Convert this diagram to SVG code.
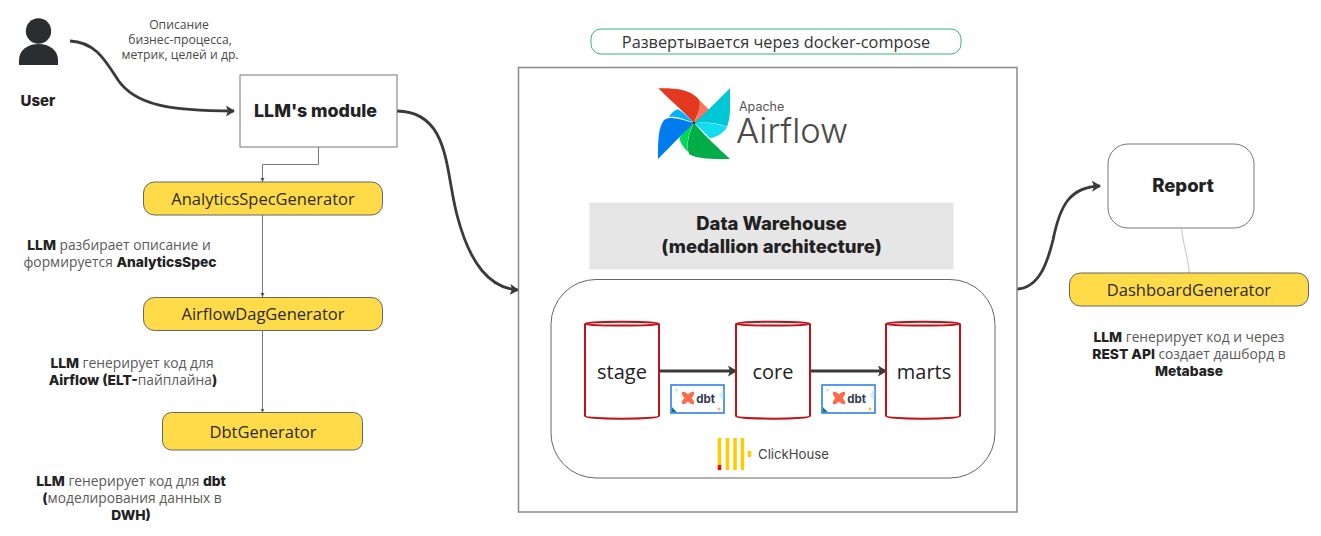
<svg xmlns="http://www.w3.org/2000/svg" width="1321" height="536" viewBox="0 0 1321 536">
<style>
text{font-family:"Open Sans","Noto Sans",sans-serif;text-anchor:middle}
.n{font-size:13.8px;fill:#5a5a5a}
.s{font-size:12.2px;fill:#4a4a4a}
.b{font-family:Inter,"Noto Sans",sans-serif;font-weight:800;fill:#222}
.g{font-size:16.5px;fill:#2b2b2b}
.c{font-size:20px;fill:#222}
.y{fill:#ffdb4a;stroke:#666;stroke-width:1}
.thick{fill:none;stroke:#3a3a3a;stroke-width:2.8;marker-end:url(#ah)}
.thin{fill:none;stroke:#777;stroke-width:1;marker-end:url(#as)}
.cyl{fill:#fff;stroke:#c01018;stroke-width:2}
</style>
<defs>
<marker id="ah" markerUnits="userSpaceOnUse" markerWidth="12" markerHeight="12" refX="8" refY="5.500" orient="auto"><path d="M0 0L9 5.500L0 11L2 5.500Z" fill="#3a3a3a"/></marker>
<marker id="as" markerUnits="userSpaceOnUse" markerWidth="6" markerHeight="6" refX="4" refY="2" orient="auto"><path d="M0 0L4 2L0 4Z" fill="#555"/></marker>
<g id="dbtlogo">
<rect x="0" y="0" width="53" height="28" fill="#fff" stroke="#2f80ed" stroke-width="1.600"/>
<path d="M0.800 22L6 27.200H0.800Z" fill="#0d7c6c"/>
<path d="M52.200 4L48 10L52.200 16Z" fill="#d5f0ec"/>
<circle cx="5.500" cy="5" r="1.500" fill="#bdeae4"/>
<circle cx="48" cy="24" r="1.500" fill="#ffb27a"/>
<path d="M11 7C13 6.500 15 7.500 17 9.500C19 7.500 21 6.500 23 7C23.600 9 22.500 11 20.500 13C22.500 15 23.600 17 23 19C21 19.500 19 18.500 17 16.500C15 18.500 13 19.500 11 19C10.400 17 11.500 15 13.500 13C11.500 11 10.400 9 11 7Z" fill="#ff6849"/>
<text x="34.500" y="17.500" style="font-family:Inter,sans-serif;font-size:11.500px;font-weight:700;fill:#2f3a4f">dbt</text>
</g>
</defs>

<g id="connectors">
<path class="thick" d="M70 41C95 42 105 60 118 80C135 105 170 111 234 111"/>
<path class="thick" d="M397 111C450 112 445 170 457 215C470 265 490 288 518 290"/>
<path class="thick" d="M1017 289C1040 288 1048 260 1053 240C1060 205 1070 187 1100 186"/>
<path class="thin" d="M318.500 147V164.500H262.500V182"/>
<path class="thin" d="M262.500 215V297"/>
<path class="thin" d="M262.500 330.500V412.500"/>
<path d="M1181.700 228.500C1183 245 1188 256 1189.300 273" fill="none" stroke="#c4c4c4" stroke-width="1"/>
</g>

<g id="user">
<circle cx="38.500" cy="31" r="12.700" fill="#2b2e31"/>
<path d="M19 65V60C19 50 28 44 38.500 44C49 44 58 50 58 60V65Z" fill="#2b2e31"/>
<text class="b" x="38" y="106" font-size="15">User</text>
</g>
<text class="s"><tspan x="179" y="29">Описание</tspan><tspan x="180" y="44">бизнес-процесса,</tspan><tspan x="180" y="59">метрик, целей и др.</tspan></text>

<g id="llm-module">
<rect x="240" y="75" width="157" height="72" fill="#fff" stroke="#777" stroke-width="1"/>
<text class="b" x="315.500" y="117" font-size="17.800">LLM's module</text>
</g>
<g id="analytics-spec-generator">
<rect class="y" x="143.500" y="182" width="239" height="33" rx="11"/>
<text class="g" x="263" y="205">AnalyticsSpecGenerator</text>
</g>
<text class="n"><tspan x="119" y="250"><tspan class="b">LLM</tspan> разбирает описание и</tspan><tspan x="120" y="267">формируется <tspan class="b">AnalyticsSpec</tspan></tspan></text>
<g id="airflow-dag-generator">
<rect class="y" x="143.500" y="297.500" width="239" height="33" rx="11"/>
<text class="g" x="263" y="320">AirflowDagGenerator</text>
</g>
<text class="n"><tspan x="132" y="368"><tspan class="b">LLM</tspan> генерирует код для</tspan><tspan x="133" y="385"><tspan class="b">Airflow (ELT-</tspan>пайплайна<tspan class="b">)</tspan></tspan></text>
<g id="dbt-generator">
<rect class="y" x="162.500" y="412.500" width="200" height="37.500" rx="9"/>
<text class="g" x="263" y="437.500">DbtGenerator</text>
</g>
<text class="n"><tspan x="131" y="486"><tspan class="b">LLM</tspan> генерирует код для <tspan class="b">dbt</tspan></tspan><tspan x="132" y="503"><tspan class="b">(</tspan>моделирования данных в</tspan><tspan x="131" y="520"><tspan class="b">DWH)</tspan></tspan></text>

<g id="docker-label">
<rect x="591" y="29" width="370" height="25" rx="10" fill="#fff" stroke="#3cb46e" stroke-width="1"/>
<text x="776" y="47.500" font-size="16.300" fill="#333">Развертывается через docker-compose</text>
</g>
<g id="airflow-container">
<rect x="518.500" y="67.500" width="498.500" height="444.500" fill="#fff" stroke="#8a8a8a" stroke-width="1.500"/>
</g>
<g id="airflow-logo">
<path d="M658.300 88.300C672 88.300 690 88 699.300 100C702 108 696 117 694 123C683 111 670 100 658.300 88.300Z" fill="#e43921"/>
<path d="M699.300 100L709.300 110C707 116 700 120 694 123C698 115 701 108 699.300 100Z" fill="#ff7557"/>
<path d="M730 88.300C730 105 731 118 727 126.700C715 122 705 122 694 123C707 112 718 100 730 88.300Z" fill="#00c7d4"/>
<path d="M694 123C705 122 717 123 727 127C724 133 717 137 710 138.300C705 133 700 128 694 123Z" fill="#11dcf0"/>
<path d="M694 123C704 135 717 147 730 159C712 159 697 159 689 154C686 144 689 133 694 123Z" fill="#00ad46"/>
<path d="M694 123C689 132 686 143 688.500 152C684 149 681 144 679.300 138.300C683 132 689 127 694 123Z" fill="#04d659"/>
<path d="M658 159C658 142 658 128 664 120C670 115 683 120 694 123C681 135 670 147 658 159Z" fill="#017cee"/>
<path d="M694 123C684 119 676 116 669 117C671 113 675 110 678.300 109.300C684 113 689 118 694 123Z" fill="#00b2ff"/>
<circle cx="694" cy="123" r="1.300" fill="#2b2b2b"/>
<text x="739" y="111" style="text-anchor:start;font-family:Inter,sans-serif;font-size:12.500px" fill="#555">Apache</text>
<text x="736" y="143" style="text-anchor:start;font-family:Inter,sans-serif;font-size:34.500px;font-weight:300" fill="#4a4a4a">Airflow</text>
</g>
<g id="dwh-title">
<rect x="589.500" y="202.500" width="364" height="67" fill="#e6e6e6"/>
<text class="b" font-size="18.500"><tspan x="771.500" y="230">Data Warehouse</tspan><tspan x="771.500" y="253">(medallion architecture)</tspan></text>
</g>
<g id="clickhouse-container">
<rect x="551" y="279.500" width="444" height="198.500" rx="45" fill="#fff" stroke="#666" stroke-width="1"/>
</g>
<g id="connectors-dwh">
<path class="thick" d="M660 371H736"/>
<path class="thick" d="M811 371H886"/>
</g>
<g id="stage">
<path class="cyl" d="M585 324C585 321 659 321 659 324V416C659 419.500 585 419.500 585 416Z"/>
<path class="cyl" d="M585 324C585 326 659 326 659 324" fill="none"/>
<text class="c" x="622" y="379">stage</text>
</g>
<g id="core">
<path class="cyl" d="M736 324C736 321 810 321 810 324V416C810 419.500 736 419.500 736 416Z"/>
<path class="cyl" d="M736 324C736 326 810 326 810 324" fill="none"/>
<text class="c" x="773" y="379">core</text>
</g>
<g id="marts">
<path class="cyl" d="M886 324C886 321 960 321 960 324V416C960 419.500 886 419.500 886 416Z"/>
<path class="cyl" d="M886 324C886 326 960 326 960 324" fill="none"/>
<text class="c" x="924" y="379">marts</text>
</g>
<use href="#dbtlogo" x="671" y="385"/>
<use href="#dbtlogo" x="822" y="385"/>
<g id="clickhouse-logo">
<rect x="717.700" y="438" width="3.500" height="27" fill="#fc0"/>
<rect x="717.700" y="465" width="3.500" height="5" fill="#f00"/>
<rect x="725.700" y="438" width="3.500" height="32" fill="#fc0"/>
<rect x="733.300" y="438" width="3.500" height="32" fill="#fc0"/>
<rect x="740.700" y="438" width="3.500" height="32" fill="#fc0"/>
<rect x="747.700" y="451" width="3.500" height="6" fill="#fc0"/>
<text x="758" y="458.500" style="text-anchor:start;font-family:Inter,sans-serif;font-size:13.200px" fill="#444">ClickHouse</text>
</g>

<g id="report">
<rect x="1108" y="144" width="146" height="84" rx="20" fill="#fff" stroke="#777" stroke-width="1"/>
<text class="b" x="1183" y="192" font-size="18.500">Report</text>
</g>
<g id="dashboard-generator">
<rect class="y" x="1069.500" y="273" width="239" height="33" rx="11"/>
<text class="g" x="1189" y="296">DashboardGenerator</text>
</g>
<text class="n"><tspan x="1189" y="342"><tspan class="b">LLM</tspan> генерирует код и через</tspan><tspan x="1189" y="359"><tspan class="b">REST API</tspan>  создает дашборд в</tspan><tspan x="1189" y="376"><tspan class="b">Metabase</tspan></tspan></text>
</svg>
